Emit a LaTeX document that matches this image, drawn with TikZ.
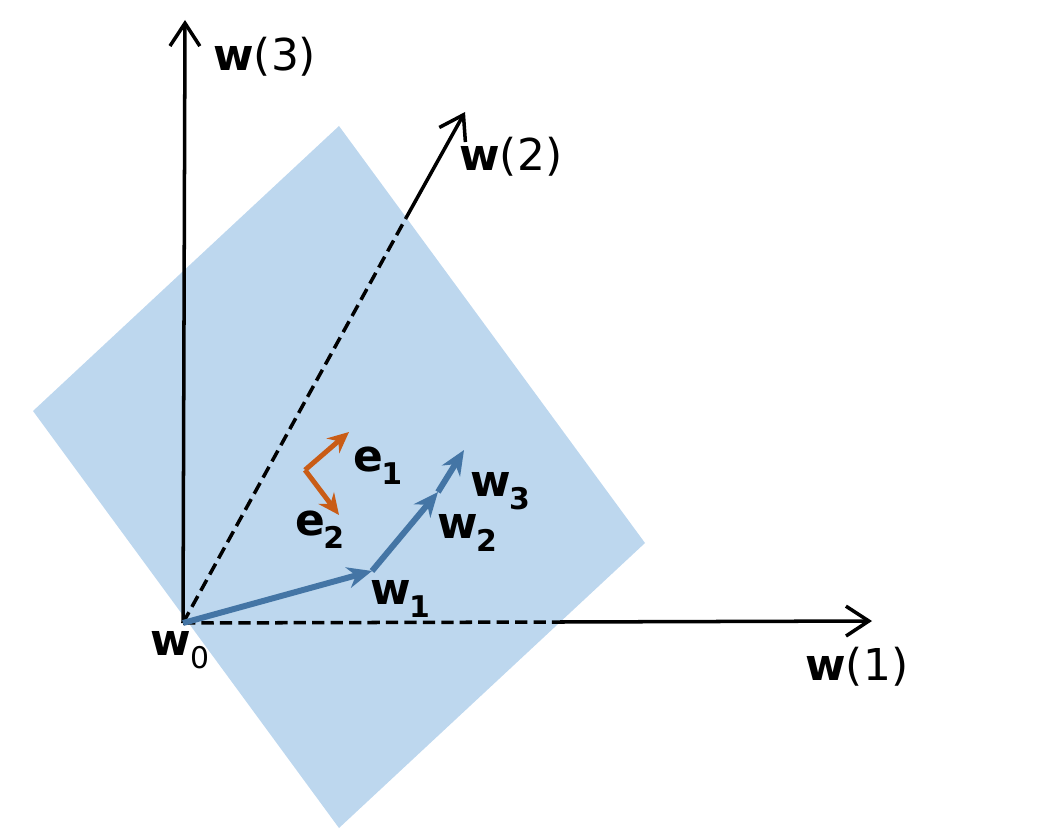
\documentclass[tikz,border=0pt]{standalone}
\usepackage{fontspec}
\setmainfont{DejaVu Sans}
\usetikzlibrary{arrows.meta}
\definecolor{planeblue}{RGB}{189,215,238}
\definecolor{stepblue}{RGB}{68,117,165}
\definecolor{basisorange}{RGB}{201,92,22}
\newcommand{\lowsub}[2][-0.04em]{\kern#1\raisebox{-0.3em}{\fontsize{17}{20}\selectfont #2}}

\begin{document}
\begin{tikzpicture}[
  x=0.02cm,y=-0.02cm,
  every node/.style={font=\fontsize{25}{30}\selectfont,inner sep=0pt},
  axis/.style={line width=2pt,-{Straight Barb[length=13pt,width=17pt]}},
  hidden/.style={line width=2pt,dash pattern=on 7pt off 3.5pt},
  stepvec/.style={line width=3.4pt,stepblue,-{Stealth[length=14pt,width=12pt,inset=4.5pt]}},
  basis/.style={line width=2.8pt,basisorange,-{Stealth[length=12pt,width=11pt,inset=4pt]}}
]
\useasboundingbox (0,0) rectangle (1043,834);
% plane spanned by e1, e2
\fill[planeblue] (33,411) -- (339,126) -- (645,543) -- (339,828) -- cycle;
% points
\coordinate (w0) at (183,623);
\coordinate (a1) at (872,621);
\coordinate (c1) at (560,622);
\coordinate (a2) at (465,112);
\coordinate (c2) at (406,218);
\coordinate (a3) at (185,20);
\coordinate (w1) at (372,571);
\coordinate (w2) at (438,492);
\coordinate (w3) at (464,450);
\coordinate (eo) at (305,470);
\coordinate (e1) at (349,432);
\coordinate (e2) at (339,515);
% axes
\draw[axis] (w0) -- (a3);
\draw[hidden] (w0) -- (c1);
\draw[axis] (c1) -- (a1);
\draw[hidden] (w0) -- (c2);
\draw[axis] (c2) -- (a2);
% iterates
\draw[stepvec] (w0) -- (w1);
\draw[stepvec] (w1) -- (w2);
\draw[stepvec] (w2) -- (w3);
% basis
\draw[basis] (eo) -- (e1);
\draw[basis] (eo) -- (e2);
% labels
\node[anchor=base west] (lw3) at (213,71) {\textbf{w}(3)};
\node[anchor=base west] (lw2) at (459,171) {\textbf{w}(2)};
\node[anchor=base west] (lw1) at (805,680) {\textbf{w}(1)};
\node[anchor=base west] (lw0) at (150,655) {\textbf{w}\lowsub[0em]{0}};
\node[anchor=base west] (lv1) at (370,604) {\textbf{w\lowsub{1}}};
\node[anchor=base west] (lv2) at (437,538) {\textbf{w\lowsub{2}}};
\node[anchor=base west] (lv3) at (470,496) {\textbf{w\lowsub{3}}};
\node[anchor=base west] (le1) at (353,471) {\textbf{e\lowsub{1}}};
\node[anchor=base west] (le2) at (295,535) {\textbf{e\lowsub{2}}};
\end{tikzpicture}
\end{document}
